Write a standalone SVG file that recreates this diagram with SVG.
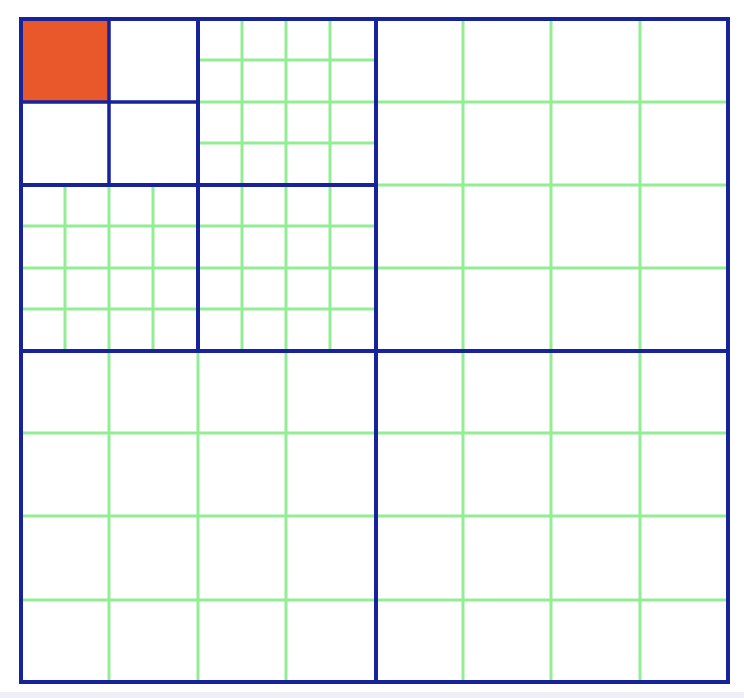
<svg xmlns="http://www.w3.org/2000/svg" width="744" height="698" viewBox="0 0 744 698">
  <style>
    .g { stroke: #93ee93; stroke-width: 3; fill: none; }
    .b { stroke: #16239a; stroke-width: 4; fill: none; stroke-linecap: square; }
    .bt { stroke: #16239a; stroke-width: 3.5; fill: none; stroke-linecap: square; }
  </style>
  <rect x="0" y="0" width="744" height="698" fill="#ffffff"/>
  <rect x="0" y="692" width="744" height="6" fill="#eef0f6"/>
  <rect id="highlight" x="21" y="19" width="88" height="83" fill="#e8582a"/>
  <g id="fine-grid">
    <!-- top-right of top-left quadrant -->
    <path class="g" d="M242 19V185M286 19V185M330 19V185M198 60H376M198 102H376M198 143H376"/>
    <!-- bottom-left fine -->
    <path class="g" d="M65 185V351M109 185V351M153 185V351M21 226H376M21 268H376M21 309H376"/>
    <!-- bottom-right fine -->
    <path class="g" d="M242 185V351M286 185V351M330 185V351"/>
  </g>
  <g id="coarse-grid">
    <path class="g" d="M463 19V682M551 19V682M640 19V682M376 102H728M376 185H728M376 268H728"/>
    <path class="g" d="M109 351V682M198 351V682M286 351V682M21 433H728M21 516H728M21 600H728"/>
  </g>
  <g id="partition">
    <rect class="b" x="21" y="19" width="707" height="663"/>
    <path class="b" d="M376 19V682M21 351H728"/>
    <path class="b" d="M198 19V351M21 185H376"/>
    <path class="bt" d="M109 19V185M21 102H198"/>
  </g>
</svg>
